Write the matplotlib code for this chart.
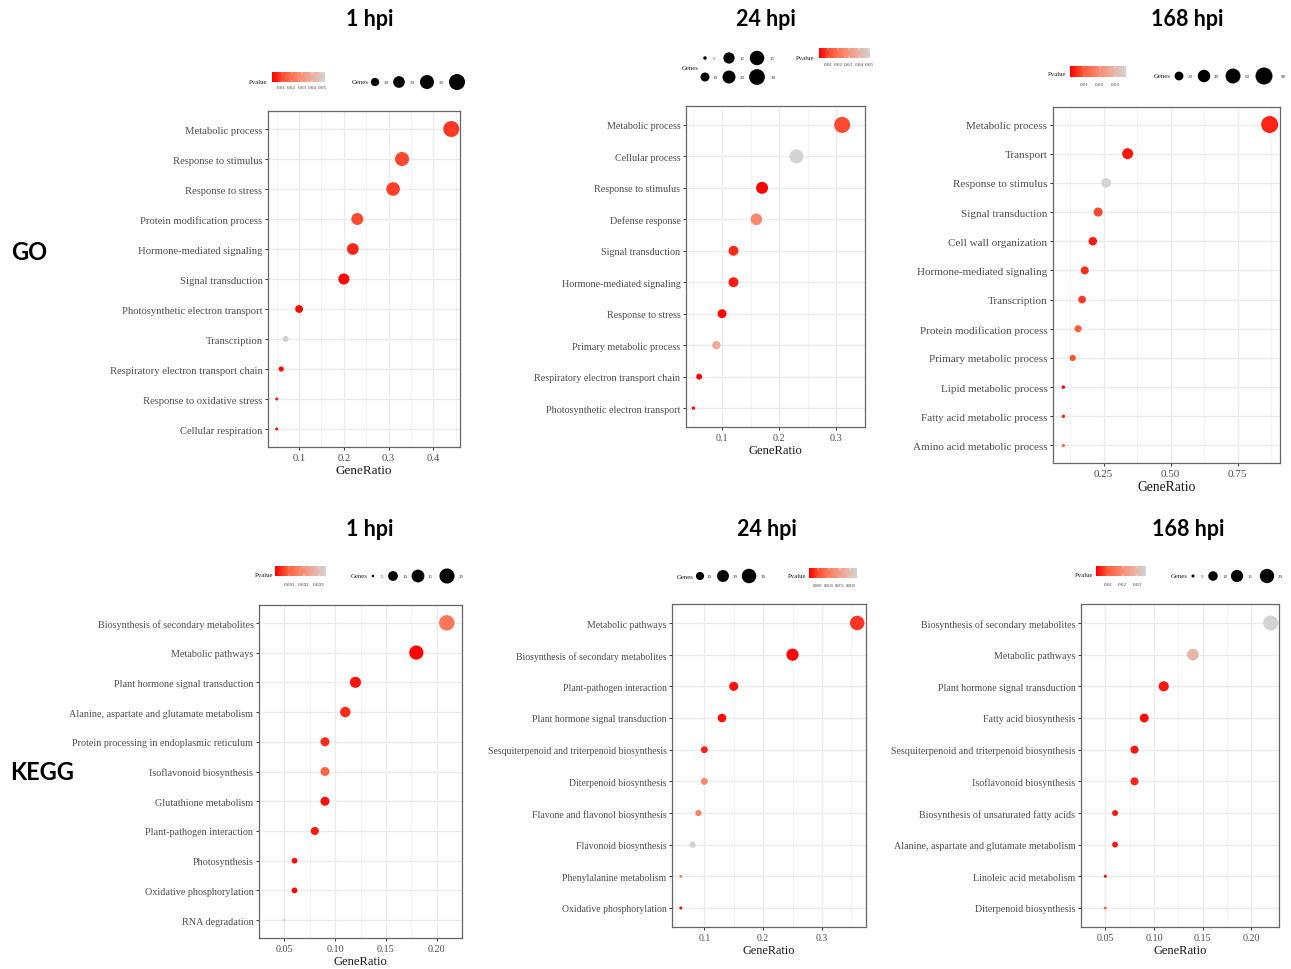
import numpy as np
import matplotlib
matplotlib.use("Agg")
import matplotlib.pyplot as plt
from matplotlib.colors import LinearSegmentedColormap

W, H = 1291, 970

# ---- GO 1 hpi
go1_terms = ["Metabolic process", "Response to stimulus", "Response to stress",
             "Protein modification process", "Hormone-mediated signaling",
             "Signal transduction", "Photosynthetic electron transport", "Transcription",
             "Respiratory electron transport chain", "Response to oxidative stress",
             "Cellular respiration"]
go1_ratio = [0.44, 0.33, 0.31, 0.23, 0.22, 0.20, 0.10, 0.07, 0.06, 0.05, 0.05]
go1_genes = [40, 30, 28, 21, 20, 18, 9, 6, 5, 4, 4]
go1_pvalue = [0.0084, 0.011, 0.0094, 0.011, 0.0058, 0.0021, 0.0016, 0.053, 0.0005, 0.003, 0.001]

# ---- GO 24 hpi
go24_terms = ["Metabolic process", "Cellular process", "Response to stimulus",
              "Defense response", "Signal transduction", "Hormone-mediated signaling",
              "Response to stress", "Primary metabolic process",
              "Respiratory electron transport chain", "Photosynthetic electron transport"]
go24_ratio = [0.31, 0.23, 0.17, 0.16, 0.12, 0.12, 0.10, 0.09, 0.06, 0.05]
go24_genes = [31, 23, 17, 16, 12, 12, 10, 9, 6, 5]
go24_pvalue = [0.011, 0.051, 0.001, 0.026, 0.007, 0.005, 0.002, 0.037, 0.0015, 0.0035]

# ---- GO 168 hpi
go168_terms = ["Metabolic process", "Transport", "Response to stimulus", "Signal transduction",
               "Cell wall organization", "Hormone-mediated signaling", "Transcription",
               "Protein modification process", "Primary metabolic process",
               "Lipid metabolic process", "Fatty acid metabolic process",
               "Amino acid metabolic process"]
go168_ratio = [0.87, 0.34, 0.26, 0.23, 0.21, 0.18, 0.17, 0.155, 0.135, 0.10, 0.10, 0.10]
go168_genes = [80, 31, 24, 21, 19, 17, 16, 14, 12, 9, 9, 9]
go168_pvalue = [0.0044, 0.003, 0.037, 0.008, 0.0033, 0.0051, 0.0062, 0.0098, 0.0088,
                0.0008, 0.005, 0.0153]

# ---- KEGG 1 hpi
kegg1_terms = ["Biosynthesis of secondary metabolites", "Metabolic pathways",
               "Plant hormone signal transduction", "Alanine, aspartate and glutamate metabolism",
               "Protein processing in endoplasmic reticulum", "Isoflavonoid biosynthesis",
               "Glutathione metabolism", "Plant-pathogen interaction", "Photosynthesis",
               "Oxidative phosphorylation", "RNA degradation"]
kegg1_ratio = [0.21, 0.18, 0.12, 0.11, 0.09, 0.09, 0.09, 0.08, 0.06, 0.06, 0.05]
kegg1_genes = [21, 18, 12, 11, 9, 9, 9, 8, 6, 6, 5]
kegg1_pvalue = [0.0014, 0.00005, 0.0002, 0.00044, 0.00044, 0.00106, 0.00016, 0.00023,
                0.00012, 0.00002, 0.0035]

# ---- KEGG 24 hpi
kegg24_terms = ["Metabolic pathways", "Biosynthesis of secondary metabolites",
                "Plant-pathogen interaction", "Plant hormone signal transduction",
                "Sesquiterpenoid and triterpenoid biosynthesis", "Diterpenoid biosynthesis",
                "Flavone and flavonol biosynthesis", "Flavonoid biosynthesis",
                "Phenylalanine metabolism", "Oxidative phosphorylation"]
kegg24_ratio = [0.36, 0.25, 0.15, 0.13, 0.10, 0.10, 0.09, 0.08, 0.06, 0.06]
kegg24_genes = [30, 21, 12, 11, 8, 8, 7, 7, 5, 5]
kegg24_pvalue = [0.00043, 0.00014, 0.00019, 0.00019, 0.00032, 0.0012, 0.0011, 0.0023,
                 0.0011, 0.0001]

# ---- KEGG 168 hpi
kegg168_terms = ["Biosynthesis of secondary metabolites", "Metabolic pathways",
                 "Plant hormone signal transduction", "Fatty acid biosynthesis",
                 "Sesquiterpenoid and triterpenoid biosynthesis", "Isoflavonoid biosynthesis",
                 "Biosynthesis of unsaturated fatty acids",
                 "Alanine, aspartate and glutamate metabolism", "Linoleic acid metabolism",
                 "Diterpenoid biosynthesis"]
kegg168_ratio = [0.22, 0.14, 0.11, 0.09, 0.08, 0.08, 0.06, 0.06, 0.05, 0.05]
kegg168_genes = [22, 14, 11, 9, 8, 8, 6, 6, 5, 5]
kegg168_pvalue = [0.036, 0.0291, 0.0038, 0.0027, 0.0038, 0.0048, 0.0038, 0.0044, 0.0017, 0.012]

SERIF = "Liberation Serif"
cmap = LinearSegmentedColormap.from_list(
    "pval", ["#FF0000", "#FF5D3D", "#F9896E", "#ECAF9F", "#D3D3D3"])

fig = plt.figure(figsize=(W / 100, H / 100), dpi=100)
ov = fig.add_axes([0, 0, 1, 1])
ov.set_xlim(0, W)
ov.set_ylim(H, 0)
ov.axis("off")


def px_rect(x0, y0, x1, y1):
    return [x0 / W, 1 - y1 / H, (x1 - x0) / W, (y1 - y0) / H]


def diam(g, genes, drange):
    # ggplot-like area scale: diameter grows with sqrt of rescaled value
    lo, hi = min(genes), max(genes)
    t = np.clip((np.asarray(g, float) - lo) / (hi - lo), 0, 1)
    return drange[0] + (drange[1] - drange[0]) * np.sqrt(t)


def area(d_px):
    return (np.asarray(d_px) * 0.72) ** 2


def draw_panel(box, terms, ratio, genes, pvalue, ticks, labels, drange, fs):
    ax = fig.add_axes(px_rect(*box))
    n = len(terms)
    y = np.arange(n)[::-1]
    ax.scatter(ratio, y, s=area(diam(genes, genes, drange)), c=pvalue, cmap=cmap,
               vmin=min(pvalue), vmax=max(pvalue), edgecolors="none", zorder=3)
    span = max(ratio) - min(ratio)
    ax.set_xlim(min(ratio) - 0.05 * span, max(ratio) + 0.05 * span)
    ax.set_ylim(-0.6, n - 0.4)
    ax.set_yticks(y)
    ax.set_yticklabels(terms)
    ax.set_xticks(ticks)
    ax.set_xticklabels(labels)
    step = ticks[1] - ticks[0]
    ax.set_xticks(np.arange(ticks[0] - step / 2, ticks[-1] + step, step), minor=True)
    ax.tick_params(which="minor", length=0)
    ax.grid(which="major", color="#EBEBEB", lw=0.9)
    ax.grid(which="minor", axis="x", color="#F1F1F1", lw=0.6)
    ax.set_axisbelow(True)
    for sp in ax.spines.values():
        sp.set_color("#666666")
        sp.set_linewidth(0.9)
    ax.tick_params(axis="both", which="major", length=2.5, width=0.7, color="#333333",
                   labelsize=fs, labelcolor="#4D4D4D", pad=1.5)
    for lab in ax.get_xticklabels() + ax.get_yticklabels():
        lab.set_fontfamily(SERIF)
    ax.set_xlabel("GeneRatio", fontfamily=SERIF, fontsize=fs + 1.8, color="#1A1A1A",
                  labelpad=2)
    return ax


def draw_colorbar(bar, title_xy, pvalue, ticks, labels, label_y, lab_fs=3.6):
    x0, y0, x1, y1 = bar
    ov.imshow(np.linspace(0, 1, 256)[None, :], extent=(x0, x1, y1, y0), aspect="auto",
              cmap=cmap, zorder=2)
    vmin, vmax = min(pvalue), max(pvalue)
    for t, lab in zip(ticks, labels):
        xt = x0 + (t - vmin) / (vmax - vmin) * (x1 - x0)
        ov.plot([xt, xt], [y0, y0 + (y1 - y0) * 0.2], color="white", lw=0.3, zorder=3)
        ov.plot([xt, xt], [y1 - (y1 - y0) * 0.2, y1], color="white", lw=0.3, zorder=3)
        ov.text(xt, label_y, lab, ha="center", va="center", fontsize=lab_fs,
                family=SERIF, color="#333333")
    ov.text(title_xy[0], title_xy[1], "Pvalue", ha="center", va="center", fontsize=4.9,
            family=SERIF, color="#1A1A1A")


def draw_sizes(title_xy, cx, lx, row_y, breaks, genes, drange, show=None):
    if title_xy is not None:
        ov.text(title_xy[0], title_xy[1], "Genes", ha="center", va="center", fontsize=4.9,
                family=SERIF, color="#1A1A1A")
    ov.scatter(cx, [row_y] * len(cx), s=area(diam(breaks, genes, drange)), color="black",
               edgecolors="none", zorder=3)
    for i, (x, b) in enumerate(zip(lx, breaks)):
        if show is not None and not show[i]:
            continue
        ov.text(x, row_y, str(b), ha="center", va="center", fontsize=3.6,
                family=SERIF, color="#333333")


# panels
d_go1 = (3, 16)
d_go24 = (3.5, 16)
d_go168 = (3.5, 17)
d_k1 = (2.5, 15.5)
d_k24 = (3, 14.5)
d_k168 = (3, 15)

draw_panel((268, 112, 460, 448), go1_terms, go1_ratio, go1_genes, go1_pvalue,
           [0.1, 0.2, 0.3, 0.4], ["0.1", "0.2", "0.3", "0.4"], d_go1, 7.7)
draw_panel((686, 107, 865, 428), go24_terms, go24_ratio, go24_genes, go24_pvalue,
           [0.1, 0.2, 0.3], ["0.1", "0.2", "0.3"], d_go24, 7.3)
draw_panel((1053, 108, 1280, 464), go168_terms, go168_ratio, go168_genes, go168_pvalue,
           [0.25, 0.50, 0.75], ["0.25", "0.50", "0.75"], d_go168, 8.0)
draw_panel((259, 606, 462, 939), kegg1_terms, kegg1_ratio, kegg1_genes, kegg1_pvalue,
           [0.05, 0.10, 0.15, 0.20], ["0.05", "0.10", "0.15", "0.20"], d_k1, 7.3)
draw_panel((672, 605, 866, 928), kegg24_terms, kegg24_ratio, kegg24_genes, kegg24_pvalue,
           [0.1, 0.2, 0.3], ["0.1", "0.2", "0.3"], d_k24, 7.0)
draw_panel((1081, 605, 1279, 928), kegg168_terms, kegg168_ratio, kegg168_genes,
           kegg168_pvalue, [0.05, 0.10, 0.15, 0.20], ["0.05", "0.10", "0.15", "0.20"],
           d_k168, 7.2)

# legends
p2 = [0.01, 0.02, 0.03, 0.04, 0.05]
p2_lab = ["0.01", "0.02", "0.03", "0.04", "0.05"]
p3 = [0.01, 0.02, 0.03]
p3_lab = ["0.01", "0.02", "0.03"]

draw_colorbar((272, 73, 325, 83), (258, 82), go1_pvalue, p2, p2_lab, 88)
draw_sizes((360, 83), [375, 399, 427, 457], [386, 412, 441, 470], 83, [10, 20, 30, 40],
           go1_genes, d_go1, show=[True, True, True, False])

draw_sizes((690, 69), [705, 729, 757], [714, 742, 772], 59, [5, 15, 25], go24_genes, d_go24)
draw_sizes(None, [705, 729, 757], [715, 742, 773], 78, [10, 20, 30], go24_genes, d_go24)
draw_colorbar((819, 49, 870, 59), (805, 59), go24_pvalue, p2, p2_lab, 65)

draw_colorbar((1070, 67, 1126, 78), (1057, 75), go168_pvalue, p3, p3_lab, 85)
draw_sizes((1162, 77), [1179, 1204, 1233, 1264], [1190, 1216, 1247, 1283], 77,
           [20, 40, 60, 80], go168_genes, d_go168)

draw_colorbar((275, 567, 326, 577), (264, 576), kegg1_pvalue, [0.001, 0.002, 0.003],
              ["0.001", "0.002", "0.003"], 585)
draw_sizes((359, 577), [373, 393, 418, 447], [382, 405, 430, 461], 577, [5, 10, 15, 20],
           kegg1_genes, d_k1)

draw_sizes((685, 578), [700, 723, 749], [709, 735, 763], 577, [10, 20, 30],
           kegg24_genes, d_k24)
draw_colorbar((809, 569, 857, 579), (797, 577), kegg24_pvalue,
              [0.0005, 0.0010, 0.0015, 0.0020], ["0.0005", "0.0010", "0.0015", "0.0020"],
              586, lab_fs=2.6)

draw_colorbar((1096, 567, 1146, 577), (1084, 576), kegg168_pvalue, p3, p3_lab, 585)
draw_sizes((1179, 577), [1193, 1213, 1237, 1267], [1202, 1225, 1250, 1280], 577,
           [5, 10, 15, 20], kegg168_genes, d_k168)

# titles
TITLE = dict(fontsize=15.5, fontweight="bold", family="Lato", ha="center", va="center")
for x, y, t in [(370, 20, "1 hpi"), (766, 20, "24 hpi"), (1187, 20, "168 hpi"),
                (370, 530, "1 hpi"), (767, 530, "24 hpi"), (1188, 530, "168 hpi")]:
    ov.text(x, y, t, **TITLE)
ov.text(29, 253, "GO", fontsize=17, fontweight="bold", family="Lato", ha="center", va="center")
ov.text(42, 773, "KEGG", fontsize=17, fontweight="bold", family="Lato", ha="center",
        va="center")

ov.set_xlim(0, W)
ov.set_ylim(H, 0)

fig.savefig("out.png", dpi=100)
